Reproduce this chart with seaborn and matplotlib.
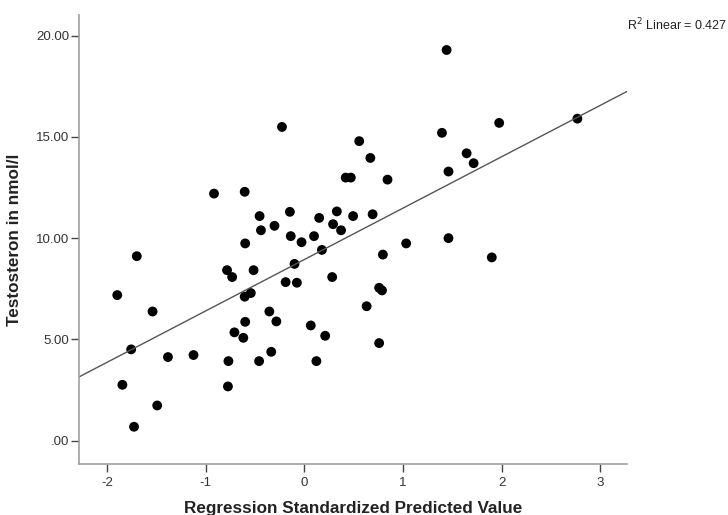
import numpy as np
import pandas as pd
import seaborn as sns
import matplotlib.pyplot as plt
from matplotlib.ticker import FuncFormatter

sns.set_theme(style="ticks")
plt.rcParams['font.family'] = ['Liberation Sans', 'DejaVu Sans']
plt.rcParams['axes.unicode_minus'] = False

# values
predicted = [-1.896, -1.844, -1.755, -1.726, -1.698, -1.538, -1.491, -1.382,
             -1.123, -0.915, -0.783, -0.769, -0.774, -0.731, -0.708, -0.618,
             -0.604, -0.599, -0.604, -0.599, -0.542, -0.514, -0.453, -0.439,
             -0.458, -0.354, -0.335, -0.302, -0.283, -0.226, -0.189, -0.146,
             -0.137, -0.099, -0.075, -0.028, 0.066, 0.099, 0.123, 0.151,
             0.179, 0.212, 0.283, 0.292, 0.330, 0.373, 0.420, 0.472,
             0.495, 0.557, 0.632, 0.670, 0.693, 0.759, 0.759, 0.788,
             0.797, 0.844, 1.033, 1.396, 1.443, 1.462, 1.462, 1.646,
             1.717, 1.901, 1.976, 2.769]
testosteron = [7.19, 2.76, 4.51, 0.69, 9.11, 6.38, 1.74, 4.13,
               4.23, 12.20, 8.42, 3.93, 2.68, 8.08, 5.35, 5.08,
               12.29, 9.74, 7.11, 5.87, 7.29, 8.42, 11.09, 10.39,
               3.93, 6.38, 4.39, 10.61, 5.89, 15.49, 7.83, 11.30,
               10.10, 8.73, 7.80, 9.80, 5.69, 10.10, 3.93, 11.00,
               9.42, 5.18, 8.08, 10.69, 11.32, 10.39, 12.99, 12.99,
               11.09, 14.79, 6.64, 13.96, 11.18, 4.82, 7.55, 7.42,
               9.19, 12.89, 9.74, 15.20, 19.29, 13.29, 10.00, 14.19,
               13.70, 9.05, 15.69, 15.90]
r2_text = "R$^2$ Linear = 0.427"
x_ticks = [-2, -1, 0, 1, 2, 3]
y_ticks = [0, 5, 10, 15, 20]

df = pd.DataFrame({"pred": predicted, "testo": testosteron})

fig = plt.figure(figsize=(7.28, 5.15), dpi=100)
ax = fig.add_axes([0.1085, 0.099, 0.7525, 0.872])
xlim = (-2.284, 3.27)
ylim = (-1.15, 21.02)
ax.set_xlim(*xlim)
ax.set_ylim(*ylim)

sns.regplot(data=df, x="pred", y="testo", ax=ax, ci=None, truncate=False,
            scatter_kws=dict(s=50, color="black", edgecolor="none", alpha=1),
            line_kws=dict(color="#555555", lw=1.0))
ax.set_xlim(*xlim)
ax.set_ylim(*ylim)

ax.set_xticks(x_ticks)
ax.set_yticks(y_ticks)


def fmt_y(v, pos):
    s = f"{v:.2f}"
    return s[1:] if s.startswith("0") else s


ax.yaxis.set_major_formatter(FuncFormatter(fmt_y))
ax.tick_params(axis="both", labelsize=9.5, length=6, width=1, color="#444444",
               labelcolor="#333333", direction="out", pad=1)
ax.tick_params(axis="x", pad=3)

sns.despine(ax=ax)
for side in ["left", "bottom"]:
    ax.spines[side].set_color("#a0a0a0")
    ax.spines[side].set_linewidth(1.2)

ax.set_xlabel("Regression Standardized Predicted Value", fontsize=12.3,
              fontweight="bold", color="#222222", labelpad=9)
ax.set_ylabel("Testosteron in nmol/l", fontsize=12.3, fontweight="bold",
              color="#222222", labelpad=10)

fig.text(0.999, 0.942, r2_text, ha="right", va="baseline", fontsize=9,
         color="#222222")

fig.savefig("out.png", dpi=100, facecolor="white")
